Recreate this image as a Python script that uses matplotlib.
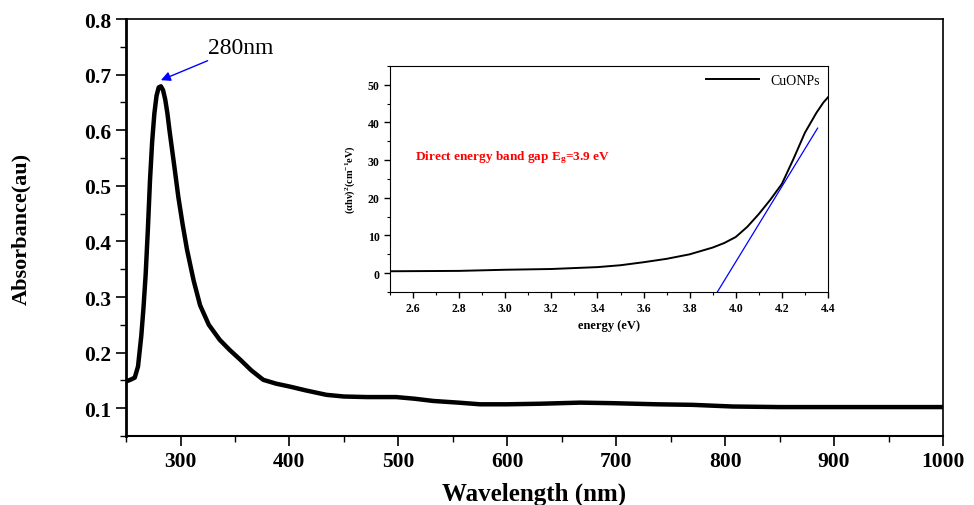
import matplotlib
matplotlib.use("Agg")
import matplotlib.pyplot as plt
from matplotlib.ticker import MultipleLocator

plt.rcParams['font.family'] = ['Liberation Serif', 'DejaVu Serif']
plt.rcParams['mathtext.fontset'] = 'custom'
plt.rcParams['mathtext.rm'] = 'Liberation Serif'
plt.rcParams['mathtext.it'] = 'Liberation Serif:italic'
plt.rcParams['mathtext.bf'] = 'Liberation Serif:bold'

# UV-vis absorbance spectrum
wavelength = [250, 255, 258, 261, 264, 266, 268, 270, 272, 274, 276, 278, 280, 282, 284, 286,
              288, 290, 294, 298, 302, 306, 312, 318, 326, 336, 345, 355, 365, 376, 388, 400,
              415, 434, 450, 471, 498, 515, 532, 555, 575, 600, 630, 667, 697, 737, 770, 807,
              850, 900, 950, 1000]
absorbance = [0.148, 0.152, 0.155, 0.175, 0.23, 0.28, 0.34, 0.42, 0.51, 0.58, 0.63, 0.662,
              0.677, 0.679, 0.672, 0.655, 0.63, 0.598, 0.54, 0.48, 0.43, 0.385, 0.33, 0.285,
              0.25, 0.223, 0.205, 0.187, 0.168, 0.151, 0.144, 0.139, 0.132, 0.124, 0.121,
              0.120, 0.120, 0.117, 0.113, 0.110, 0.107, 0.107, 0.108, 0.110, 0.109, 0.107,
              0.106, 0.103, 0.102, 0.102, 0.102, 0.102]

# Tauc plot (inset)
energy = [2.5, 2.8, 3.0, 3.2, 3.4, 3.5, 3.6, 3.7, 3.8, 3.9, 3.95, 4.0, 4.05, 4.1, 4.15, 4.2,
          4.25, 4.3, 4.35, 4.38, 4.4]
tauc = [0.5, 0.6, 0.9, 1.1, 1.6, 2.1, 2.9, 3.8, 5.0, 6.8, 8.0, 9.6, 12.3, 15.7, 19.5, 23.7,
        30.3, 37.3, 42.6, 45.3, 46.7]
fit_x = [3.92, 4.355]
fit_y = [-5, 38.5]

fig = plt.figure(figsize=(9.74, 5.06), dpi=100)
ax = fig.add_axes([0.1294, 0.1364, 0.8388, 0.824])
ax.plot(wavelength, absorbance, color='black', lw=3.2, solid_joinstyle='round')
ax.set_xlim(250, 1000)
ax.set_ylim(0.05, 0.8)
ax.xaxis.set_major_locator(MultipleLocator(100))
ax.xaxis.set_minor_locator(MultipleLocator(50))
ax.yaxis.set_major_locator(MultipleLocator(0.1))
ax.yaxis.set_minor_locator(MultipleLocator(0.05))
ax.tick_params(which='major', direction='out', length=7, width=1.2, labelsize=15.5)
ax.tick_params(which='minor', direction='out', length=4, width=1)
ax.set_xticks([300, 400, 500, 600, 700, 800, 900, 1000])
ax.set_xticklabels(['300', '400', '500', '600', '700', '800', '900', '1000'])
for lab in ax.get_xticklabels() + ax.get_yticklabels():
    lab.set_fontweight('bold')
ax.set_xlabel('Wavelength (nm)', fontsize=18, fontweight='bold', labelpad=8)
ax.set_ylabel('Absorbance(au)', fontsize=16, fontweight='bold', labelpad=38)
ax.spines['left'].set_linewidth(2)
ax.spines['bottom'].set_linewidth(1.5)
for s in ['top', 'right']:
    ax.spines[s].set_linewidth(1.2)

ax.annotate('280nm', xy=(282, 0.69), xytext=(325, 0.73),
            fontsize=17, ha='left', va='bottom',
            arrowprops=dict(arrowstyle='-|>', color='blue', lw=1, mutation_scale=14,
                            shrinkA=0, shrinkB=0, relpos=(0.1, 0.0)))

# inset
ins = fig.add_axes([0.4004, 0.421, 0.4497, 0.4466])
ins.plot(energy, tauc, color='black', lw=1.4, label='CuONPs')
ins.plot(fit_x, fit_y, color='blue', lw=0.9)
ins.set_xlim(2.5, 4.4)
ins.set_ylim(-5, 55)
ins.xaxis.set_major_locator(MultipleLocator(0.2))
ins.xaxis.set_minor_locator(MultipleLocator(0.1))
ins.yaxis.set_major_locator(MultipleLocator(10))
ins.yaxis.set_minor_locator(MultipleLocator(5))
ins.set_xticks([2.6, 2.8, 3.0, 3.2, 3.4, 3.6, 3.8, 4.0, 4.2, 4.4])
ins.set_xticklabels(['2.6', '2.8', '3.0', '3.2', '3.4', '3.6', '3.8', '4.0', '4.2', '4.4'])
ins.tick_params(which='major', direction='out', length=4, width=1, labelsize=8.5)
ins.tick_params(which='minor', direction='out', length=2.5, width=0.8)
for lab in ins.get_xticklabels() + ins.get_yticklabels():
    lab.set_fontweight('bold')
ins.set_xlabel('energy (eV)', fontsize=9, fontweight='bold', labelpad=3)
ins.set_ylabel(r'$\mathbf{(\alpha h\nu)^2(cm^{-1}eV)}$', fontsize=7.5, labelpad=8)
ins.text(2.61, 30.8, r'Direct energy band gap E$_\mathbf{g}$=3.9 eV', color='red',
         fontsize=9.5, fontweight='bold', va='center')
ins.legend(loc='upper right', frameon=False, fontsize=10, handlelength=3.8,
           borderaxespad=0.2)

fig.savefig('out.png', dpi=100)
